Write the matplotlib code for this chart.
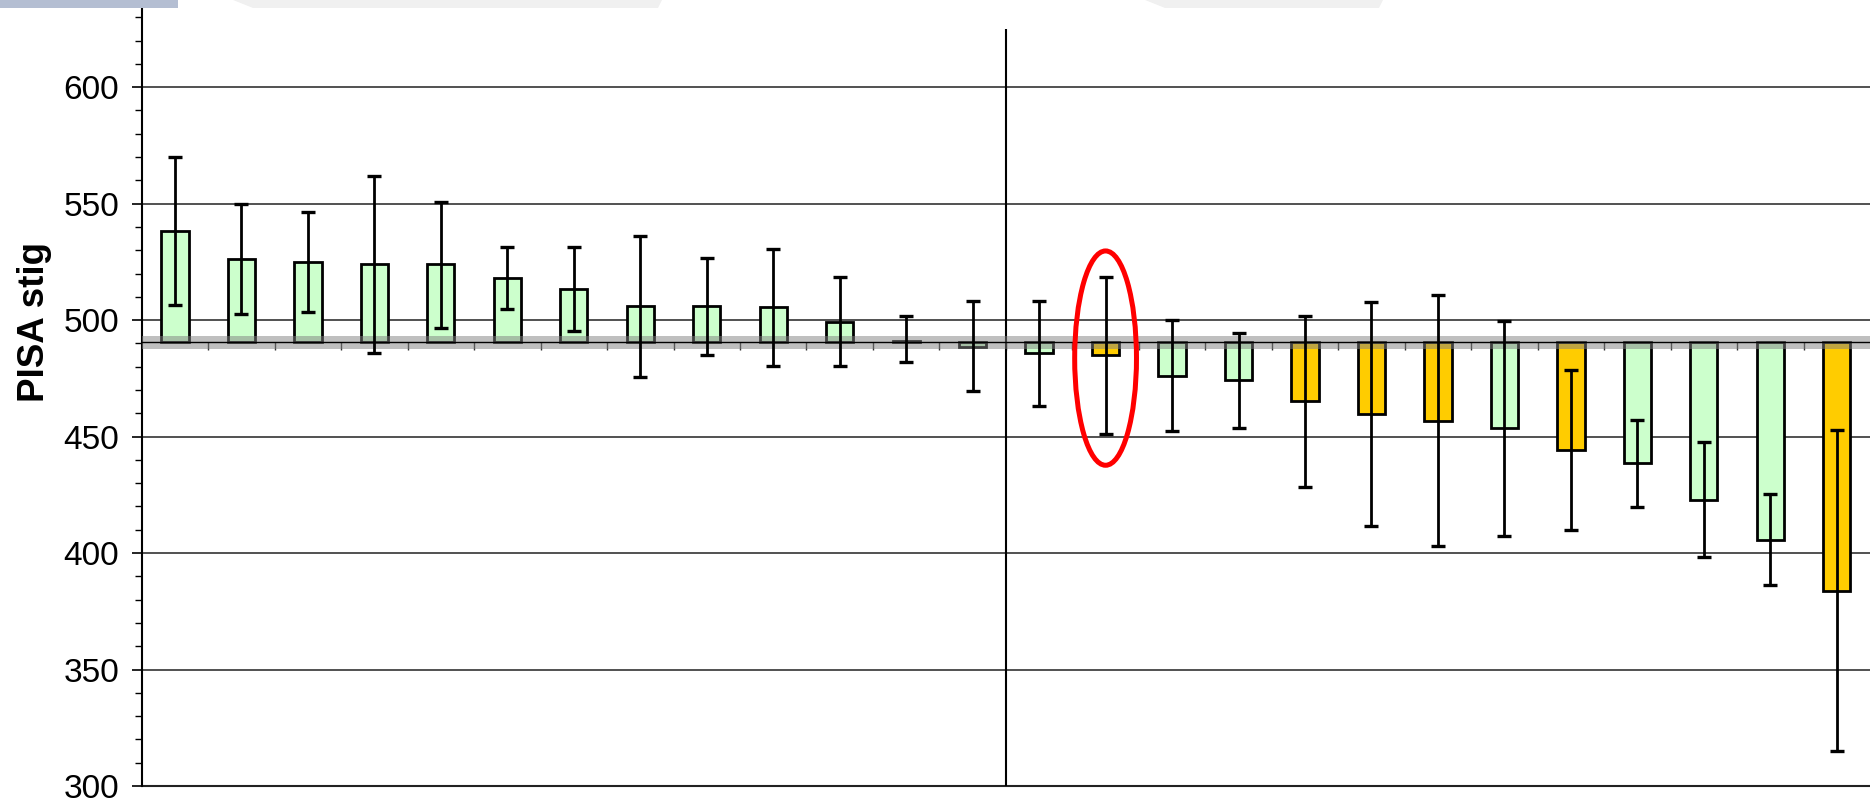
import numpy as np
import matplotlib.pyplot as plt
from matplotlib.patches import Ellipse, Rectangle, Polygon

plt.rcParams['font.family'] = ['Liberation Sans', 'DejaVu Sans']

# PISA scores (bars hang from the average) with error-bar limits
means = [538.1, 526.3, 525.0, 523.9, 523.9, 518.3, 513.3, 506.0, 506.0, 505.7,
         499.4, 491.2, 488.5, 485.9, 485.0, 475.9, 474.2, 465.1, 459.6, 456.9,
         453.6, 444.3, 438.6, 422.9, 405.7, 383.9]
err_low = [506.3, 502.6, 503.3, 486.0, 496.6, 504.6, 495.2, 475.6, 484.9, 480.4,
           480.4, 482.0, 469.7, 463.3, 451.3, 452.4, 453.7, 428.3, 411.5, 403.2,
           407.3, 409.9, 419.9, 398.2, 386.4, 314.9]
err_high = [570.0, 550.0, 546.4, 562.0, 550.9, 531.4, 531.4, 536.3, 526.7, 530.6,
            518.4, 501.6, 508.0, 508.4, 518.6, 499.9, 494.6, 501.9, 507.6, 510.6,
            499.8, 478.6, 457.3, 447.6, 425.2, 452.8]
groups = ['g'] * 14 + ['o', 'g', 'g', 'o', 'o', 'o', 'g', 'o', 'g', 'g', 'g', 'o']
groups = groups[:26]
baseline = 490.5
highlight = 14
split_after = 13

colors = {'g': '#CCFFCC', 'o': '#FFCC00'}

fig = plt.figure(figsize=(18.7, 7.98), dpi=100)
ax = fig.add_axes([0.0758, 0.015, 0.9242, 0.975])

x = np.arange(len(means))
m = np.array(means)
lo = np.array(err_low)
hi = np.array(err_high)

ax.bar(x, m - baseline, bottom=baseline, width=0.41,
       color=[colors[g] for g in groups], edgecolor='black', linewidth=2.0, zorder=3)
ax.errorbar(x, m, yerr=[m - lo, hi - m], fmt='none', ecolor='black',
            elinewidth=2.0, capsize=5, capthick=2.4, zorder=5)

# gray band for the average
ax.axhspan(487.5, 493.0, color='#808080', alpha=0.5, lw=0, zorder=4)

# split line and highlight
ax.vlines(split_after - 0.5, 300, 625, color='black', lw=1.5, zorder=2)
ax.add_patch(Ellipse((highlight, 483.7), 0.93, 92, fill=False,
                     edgecolor='#FF0000', lw=3.6, zorder=6))

ax.set_xlim(-0.5, len(means) - 0.5)
ax.set_ylim(300, 634)
ax.set_yticks(np.arange(300, 601, 50))
ax.set_yticks(np.arange(300, 634, 10), minor=True)
ax.tick_params(axis='y', which='major', length=7.2, width=1.2, labelsize=24, pad=9)
ax.tick_params(axis='y', which='minor', length=5, width=1.0)
ax.yaxis.grid(True, which='major', color='#222222', lw=1.1, zorder=1)

ax.set_xticks(np.arange(len(means) - 1) + 0.5)
ax.set_xticklabels([])
ax.tick_params(axis='x', length=6, width=1.0, color='#333333', direction='out')
ax.spines['bottom'].set_position(('data', baseline))
ax.spines['bottom'].set_zorder(4)
ax.spines['bottom'].set_linewidth(1.0)
ax.spines['top'].set_visible(False)
ax.spines['right'].set_visible(False)
ax.spines['left'].set_linewidth(1.5)
ax.axhline(300, color='#222222', lw=1.5, zorder=1, clip_on=False)

ax.set_ylabel('PISA stig', fontsize=26.5, fontweight='bold')
ax.yaxis.set_label_coords(-0.052, 0.596)

# slide header remnants
fig.add_artist(Rectangle((0, 1 - 8 / 798), 178 / 1870, 8 / 798,
                         transform=fig.transFigure, color='#B4BED2', lw=0))
for x0, x1 in [(233, 662), (1145, 1383)]:
    fig.add_artist(Polygon([(x0 / 1870, 1), (x1 / 1870, 1), ((x1 - 4) / 1870, 1 - 8 / 798),
                            ((x0 + 20) / 1870, 1 - 8 / 798)],
                           transform=fig.transFigure, color='#F0F0F0', lw=0))

fig.savefig('out.png', dpi=100)
